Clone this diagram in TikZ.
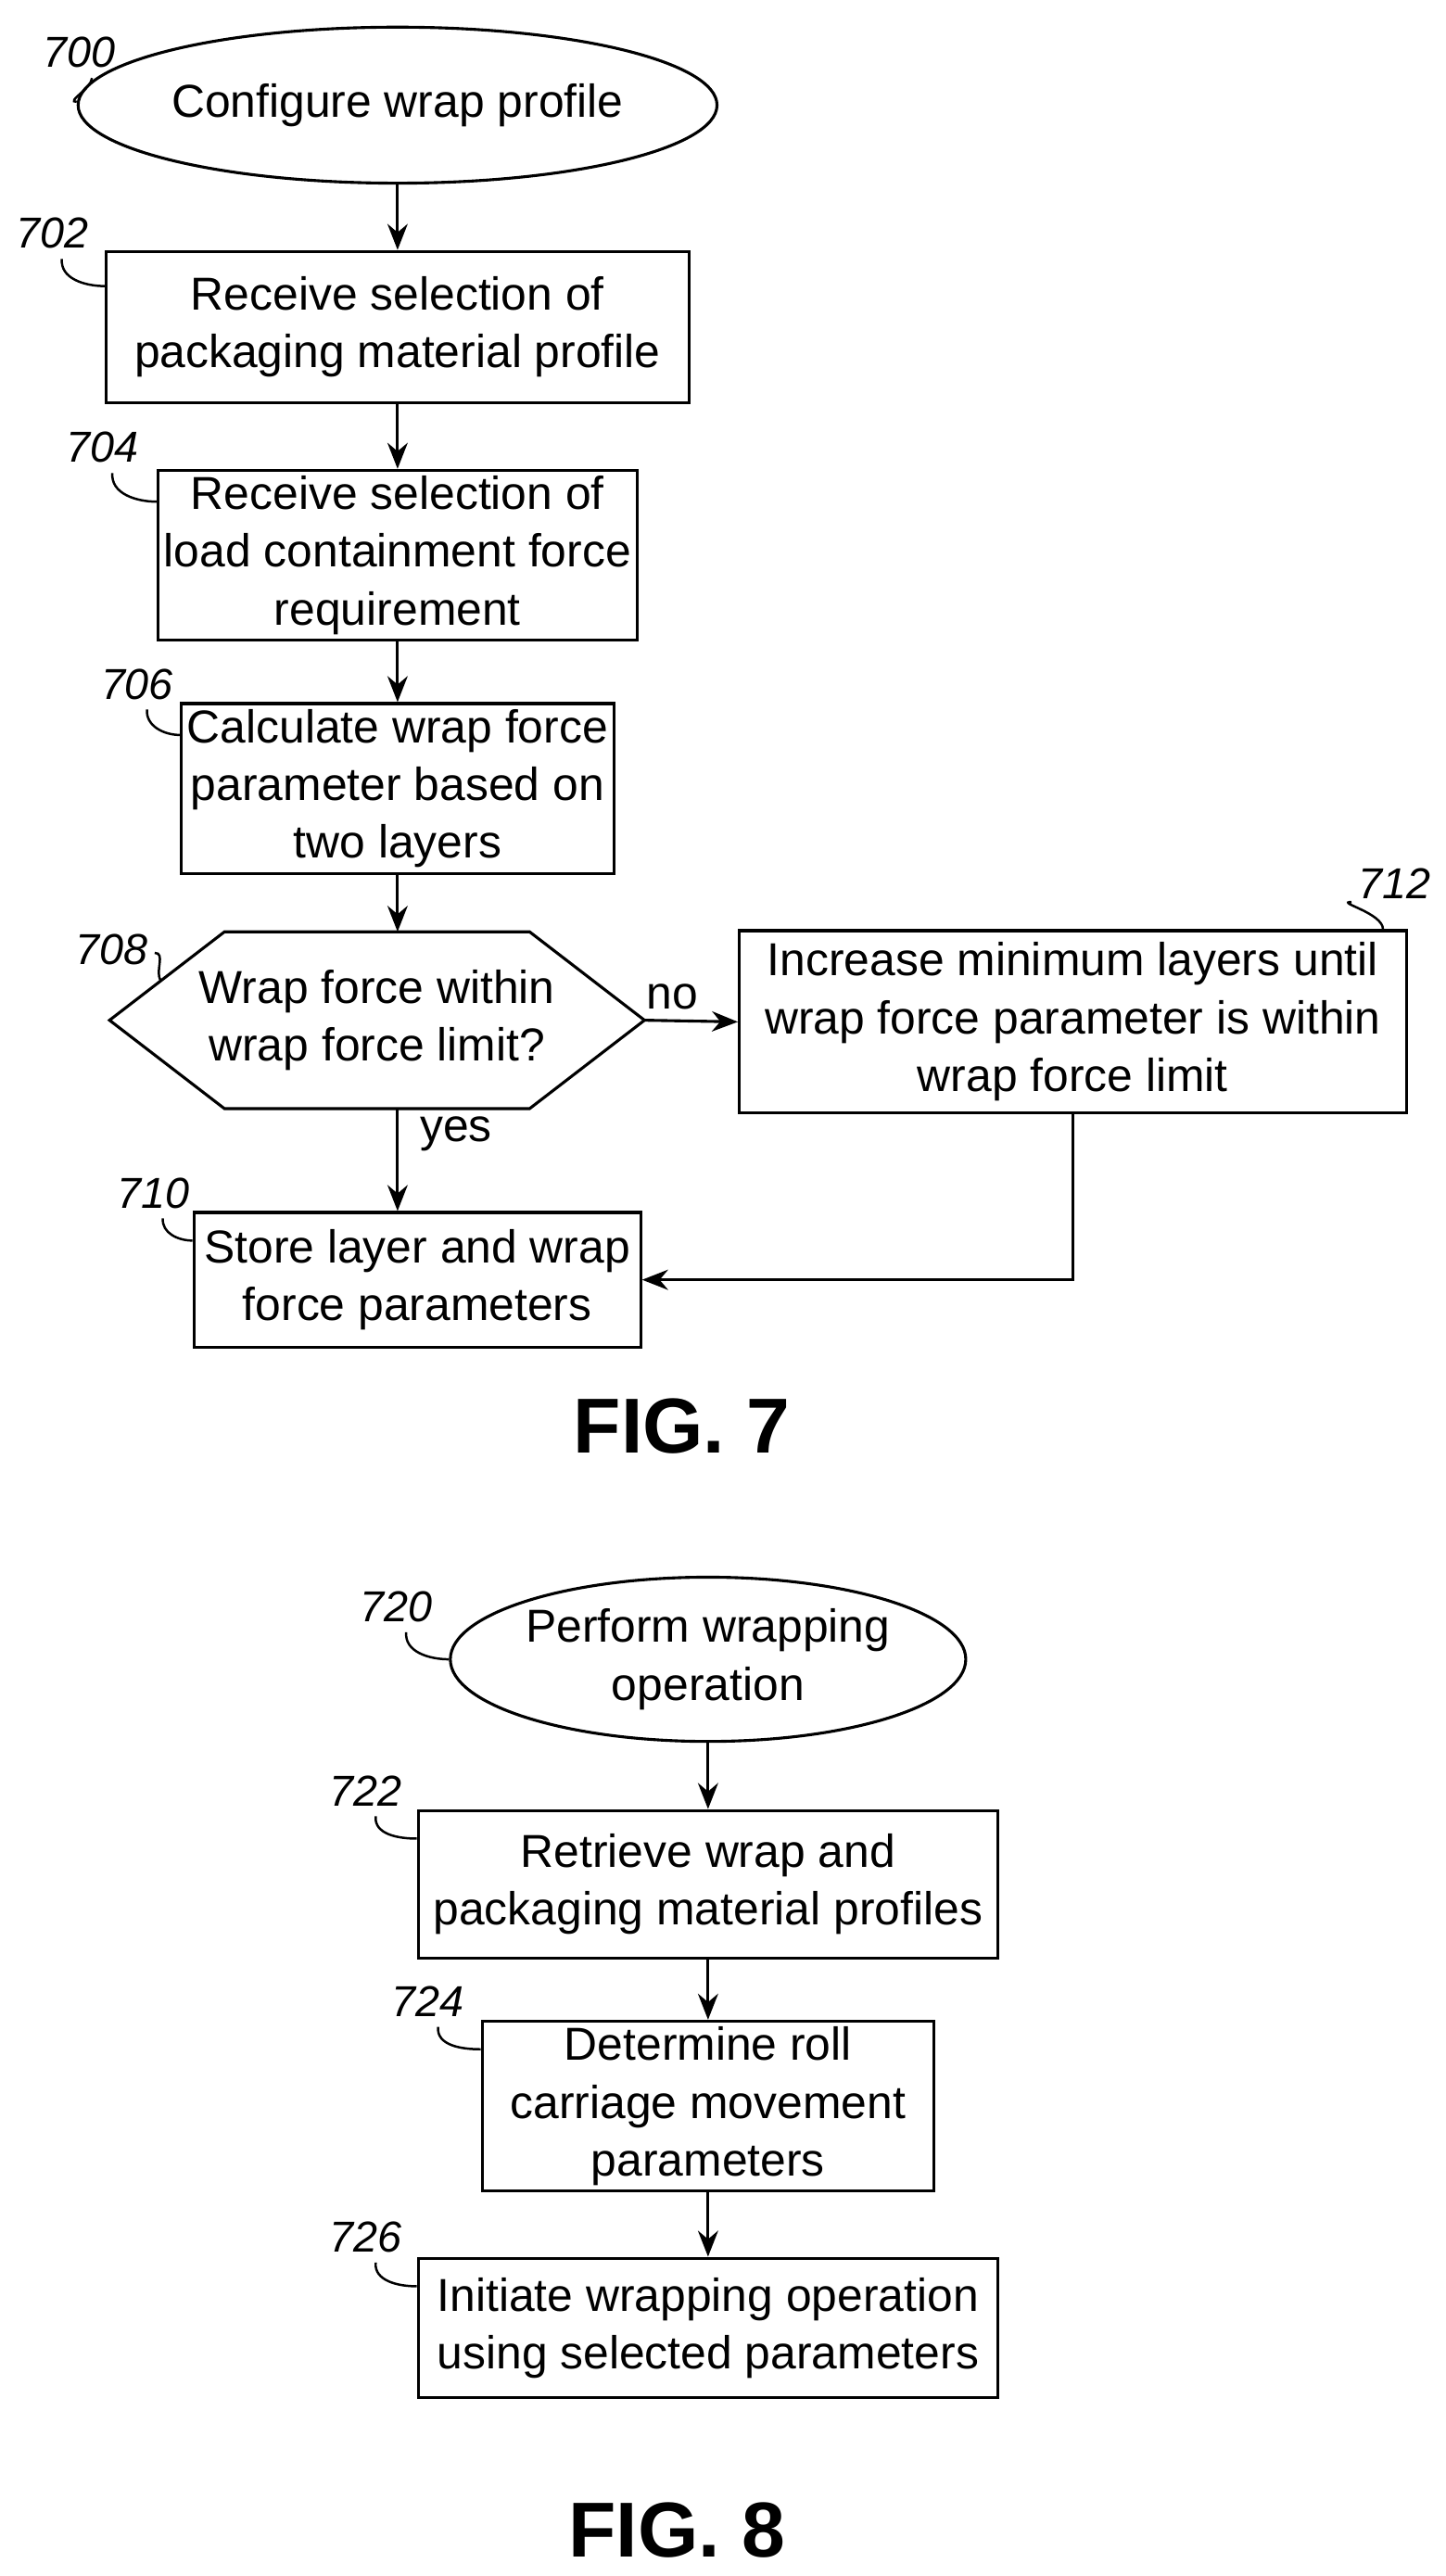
\documentclass[tikz,border=0pt]{standalone}
\usepackage{fontspec}
\setmainfont{Liberation Sans}
\usetikzlibrary{shapes.geometric, arrows.meta, calc}
\tikzset{
    every node/.style={font=\fontsize{16}{20}\selectfont, align=center},
    box/.style={draw, line width=1pt, rectangle, inner sep=2pt},
    oval/.style={draw, line width=1pt, ellipse, inner sep=0pt},
    flow/.style={line width=1pt, -{Stealth[length=9pt, width=7pt]}},
    refnum/.style={font=\itshape\fontsize{15}{17}\selectfont},
    leader/.style={line width=0.8pt},
    figlabel/.style={font=\bfseries\fontsize{27}{31}\selectfont},
}
\begin{document}
\begin{tikzpicture}[x=0.02cm, y=-0.02cm]
        \useasboundingbox (0, 0) rectangle (880, 1568);
        % FIG. 7
        \node[oval, minimum width=6.4cm, minimum height=1.9cm] (s700) at (242, 64)
            {Configure wrap profile};
        \node[box, minimum width=7.1cm, minimum height=1.84cm] (b702) at (242, 199)
            {Receive selection of\\packaging material profile};
        \node[box, minimum width=5.3cm, minimum height=2.06cm] (b704) at (242, 338)
            {Receive selection of\\load containment force\\requirement};
        \node[box, minimum width=4.98cm, minimum height=2cm] (b706) at (242, 480)
            {Calculate wrap force\\parameter based on\\two layers};
        \node[minimum width=6.5cm, minimum height=2.14cm] (d708) at (229.5, 621)
            {Wrap force within\\wrap force limit?};
        \draw[line width=1pt] (d708.west) -- ($(d708.north west)+(1.4cm,0)$)
            -- ($(d708.north east)+(-1.4cm,0)$) -- (d708.east)
            -- ($(d708.south east)+(-1.4cm,0)$) -- ($(d708.south west)+(1.4cm,0)$)
            -- cycle;
        \node[box, minimum width=8.12cm, minimum height=2.22cm] (b712) at (653, 622)
            {Increase minimum layers until\\wrap force parameter is within\\wrap force limit};
        \node[box, minimum width=5.44cm, minimum height=1.64cm] (b710) at (254, 779)
            {Store layer and wrap\\force parameters};
        \draw[flow] (s700) -- (s700 |- b702.north);
        \draw[flow] (b702.south -| s700) -- (b704);
        \draw[flow] (b704) -- (b706);
        \draw[flow] (b706.south) -- (b706.south |- d708.north);
        \draw[flow] (b706.south |- d708.south) -- (b706.south |- b710.north)
            node[pos=.25, right, xshift=4pt] {yes};
        \draw[flow] (d708.east) -- (b712.west) node[pos=.3, above] {no};
        \draw[flow] (b712.south) |- (b710.east);
        \node[figlabel] (fig7) at (415, 868) {FIG. 7};
        % FIG. 8
        \node[oval, minimum width=6.1cm, minimum height=2cm] (s720) at (431, 1010)
            {Perform wrapping\\operation};
        \node[box, minimum width=7.06cm, minimum height=1.8cm] (b722) at (431, 1147)
            {Retrieve wrap and\\packaging material profiles};
        \node[box, minimum width=5.5cm, minimum height=2cm] (b724) at (431, 1282)
            {Determine roll\\carriage movement\\parameters};
        \node[box, minimum width=7.06cm, minimum height=1.7cm] (b726) at (431, 1417)
            {Initiate wrapping operation\\using selected parameters};
        \draw[flow] (s720) -- (s720 |- b722.north);
        \draw[flow] (b722.south -| s720) -- (s720 |- b724.north);
        \draw[flow] (b724.south -| s720) -- (s720 |- b726.north);
        \node[figlabel] (fig8) at (412, 1540) {FIG. 8};
        % reference numerals
        \begin{scope}[every node/.style={refnum}]
            \node (l700) at (48, 32) {700};
            \node (l702) at ($(b702.north west)+(-32, -10)$) {702};
            \node (l704) at ($(b704.north west)+(-33, -13)$) {704};
            \node (l706) at ($(b706.north west)+(-26, -11)$) {706};
            \node (l708) at (68, 578) {708};
            \node (l710) at ($(b710.north west)+(-24, -11)$) {710};
            \node (l712) at ($(b712.north east)+(-8, -28)$) {712};
            \node (l720) at ($(s720.west)+(-32, -32)$) {720};
            \node (l722) at ($(b722.north west)+(-31, -11)$) {722};
            \node (l724) at ($(b724.north west)+(-32, -11)$) {724};
            \node (l726) at ($(b726.north west)+(-31, -12)$) {726};
        \end{scope}
        \draw[leader] ($(l700.south)+(8,0)$) to[out=-95, in=180] ($(s700.west)+(0,-2)$);
        \draw[leader] ($(l702.south)+(6,0)$) to[out=-95, in=180] ($(b702.north west)+(0,22)$);
        \draw[leader] ($(l704.south)+(6,0)$) to[out=-95, in=180] ($(b704.north west)+(0,20)$);
        \draw[leader] ($(l706.south)+(6,0)$) to[out=-95, in=180] ($(b706.north west)+(0,20)$);
        \draw[leader] ($(l708.east)+(-2,2)$) to[out=0, in=120]
            ($(d708.west)!.45!(d708.north west)+(0.62cm,0)$);
        \draw[leader] ($(l710.south)+(6,0)$) to[out=-95, in=180] ($(b710.north west)+(0,18)$);
        \draw[leader] ($(l712.south west)+(2,-4)$) to[out=180, in=90] ($(b712.north east)+(-15,0)$);
        \draw[leader] ($(l720.south)+(6,0)$) to[out=-95, in=180] (s720.west);
        \draw[leader] ($(l722.south)+(6,0)$) to[out=-95, in=180] ($(b722.north west)+(0,18)$);
        \draw[leader] ($(l724.south)+(6,0)$) to[out=-95, in=180] ($(b724.north west)+(0,18)$);
        \draw[leader] ($(l726.south)+(6,0)$) to[out=-95, in=180] ($(b726.north west)+(0,18)$);
    \end{tikzpicture}
\end{document}
